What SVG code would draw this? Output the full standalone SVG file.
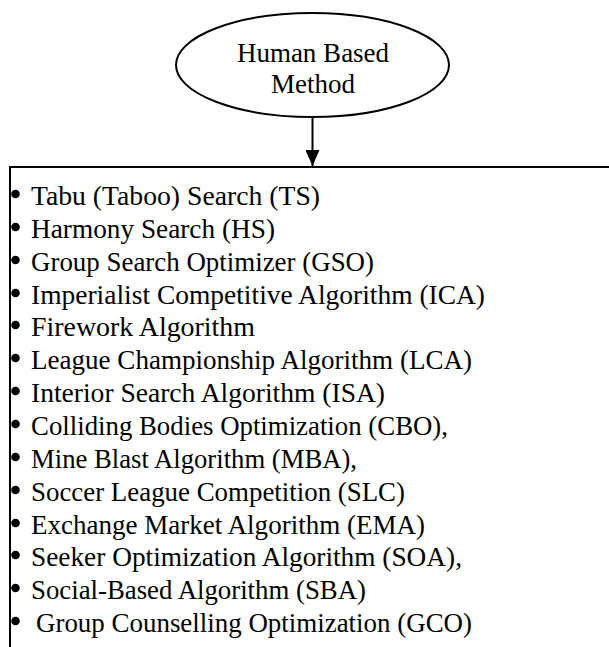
<svg xmlns="http://www.w3.org/2000/svg" width="609" height="647" viewBox="0 0 609 647">
  <defs>
    <marker id="arrowhead" markerWidth="16" markerHeight="14" refX="16" refY="7" orient="auto" markerUnits="userSpaceOnUse" viewBox="0 0 16 14">
      <path d="M0,0 L16,7 L0,14 Z" fill="#000"/>
    </marker>
    <style>
      .lbl { font-family: "Liberation Serif", "DejaVu Serif", serif; font-size: 27px; fill: #000; }
      .item { font-family: "Liberation Serif", "DejaVu Serif", serif; font-size: 27.7px; fill: #000; }
      .bullet { fill: #000; }
      .edge { stroke: #000; stroke-width: 2; fill: none; }
    </style>
  </defs>
  <rect width="609" height="647" fill="#fff"/>

  <!-- root node -->
  <g id="human-based-method">
    <ellipse cx="312.5" cy="65" rx="136.5" ry="52" fill="#fff" stroke="#000" stroke-width="2"/>
    <text class="lbl" x="313" y="62" text-anchor="middle">Human Based</text>
    <text class="lbl" x="313" y="93" text-anchor="middle">Method</text>
  </g>

  <!-- list node: open box (top and left edges) -->
  <g id="method-list">
    <path d="M609,167 L10,167 L10,647" fill="none" stroke="#000" stroke-width="2"/>
    <g class="bullet">
      <circle cx="15.5" cy="194" r="4.3"/>
      <circle cx="15.5" cy="227" r="4.3"/>
      <circle cx="15.5" cy="260" r="4.3"/>
      <circle cx="15.5" cy="293" r="4.3"/>
      <circle cx="15.5" cy="325" r="4.3"/>
      <circle cx="15.5" cy="358" r="4.3"/>
      <circle cx="15.5" cy="391" r="4.3"/>
      <circle cx="15.5" cy="424" r="4.3"/>
      <circle cx="15.5" cy="457" r="4.3"/>
      <circle cx="15.5" cy="490" r="4.3"/>
      <circle cx="15.5" cy="523" r="4.3"/>
      <circle cx="15.5" cy="555" r="4.3"/>
      <circle cx="15.5" cy="588" r="4.3"/>
      <circle cx="15.5" cy="621" r="4.3"/>
    </g>
    <g class="item">
      <text x="31" y="205" textLength="289" lengthAdjust="spacingAndGlyphs">Tabu (Taboo) Search (TS)</text>
      <text x="31" y="238" textLength="244" lengthAdjust="spacingAndGlyphs">Harmony Search (HS)</text>
      <text x="31" y="271" textLength="343" lengthAdjust="spacingAndGlyphs">Group Search Optimizer (GSO)</text>
      <text x="31" y="304" textLength="454" lengthAdjust="spacingAndGlyphs">Imperialist Competitive Algorithm (ICA)</text>
      <text x="31" y="336" textLength="224" lengthAdjust="spacingAndGlyphs">Firework Algorithm</text>
      <text x="31" y="369" textLength="441" lengthAdjust="spacingAndGlyphs">League Championship Algorithm (LCA)</text>
      <text x="31" y="402" textLength="354" lengthAdjust="spacingAndGlyphs">Interior Search Algorithm (ISA)</text>
      <text x="31" y="435" textLength="417" lengthAdjust="spacingAndGlyphs">Colliding Bodies Optimization (CBO),</text>
      <text x="31" y="468" textLength="326" lengthAdjust="spacingAndGlyphs">Mine Blast Algorithm (MBA),</text>
      <text x="31" y="501" textLength="374" lengthAdjust="spacingAndGlyphs">Soccer League Competition (SLC)</text>
      <text x="31" y="534" textLength="394" lengthAdjust="spacingAndGlyphs">Exchange Market Algorithm (EMA)</text>
      <text x="31" y="566" textLength="431" lengthAdjust="spacingAndGlyphs">Seeker Optimization Algorithm (SOA),</text>
      <text x="31" y="599" textLength="335" lengthAdjust="spacingAndGlyphs">Social-Based Algorithm (SBA)</text>
      <text x="36" y="632" textLength="436" lengthAdjust="spacingAndGlyphs">Group Counselling Optimization (GCO)</text>
    </g>
  </g>

  <!-- connectors -->
  <g id="connectors">
    <line class="edge" x1="312.5" y1="117" x2="312.5" y2="166" marker-end="url(#arrowhead)"/>
  </g>
</svg>
